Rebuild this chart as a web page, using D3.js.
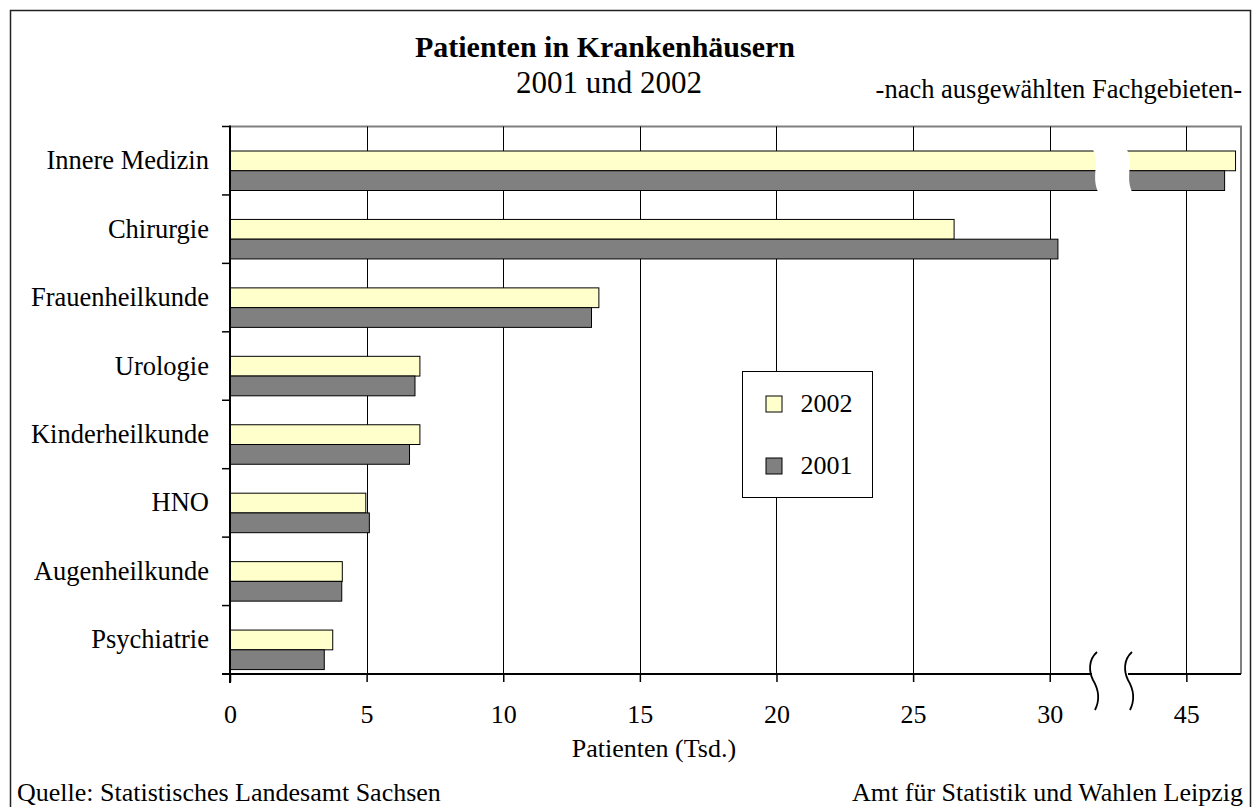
<!DOCTYPE html>
<html>
<head>
<meta charset="utf-8">
<script src="https://cdn.jsdelivr.net/npm/d3@7"></script>
<style>
  body { margin: 0; background: #fff; }
  svg { display: block; font-family: "Liberation Serif", "Times New Roman", serif; }
</style>
</head>
<body>
<div id="chart"></div>
<script>
const categories = ["Innere Medizin", "Chirurgie", "Frauenheilkunde", "Urologie", "Kinderheilkunde", "HNO", "Augenheilkunde", "Psychiatrie"]
const series = ["2002", "2001"]
const values2002 = [46.8, 26.5, 13.5, 6.95, 6.95, 4.97, 4.11, 3.76]
const values2001 = [46.4, 30.3, 13.23, 6.77, 6.57, 5.1, 4.09, 3.45]
const tickValues = [0, 5, 10, 15, 20, 25, 30, 35]
const tickLabels = ["0", "5", "10", "15", "20", "25", "30", "45"]

// values beyond the axis break are drawn this many units further left
const BREAK_OFFSET = 10
const BREAK_AT = 40

const COLORS = { "2002": "#ffffcc", "2001": "#808080" }

const width = 1260
const height = 807
const plot = { left: 230, right: 1241, top: 126.5, bottom: 674 }

const svg = d3.select("#chart")
  .append("svg")
  .attr("width", width)
  .attr("height", height)

const x = d3.scaleLinear().domain([0, 37]).range([plot.left, plot.right])
const y = d3.scaleBand().domain(categories).range([plot.top, plot.bottom])
const sub = d3.scaleBand().domain(series).range([24.5, 64])

const px = v => x(v > BREAK_AT ? v - BREAK_OFFSET : v)
const crisp = v => Math.round(v) + 0.5

// Outer frame
svg.append("rect")
  .attr("x", 10.5).attr("y", 10.5)
  .attr("width", 1240).attr("height", 830)
  .attr("fill", "none")
  .attr("stroke", "#222")
  .attr("stroke-width", 1.5)

// Titles
svg.append("text")
  .attr("x", 605).attr("y", 57)
  .attr("text-anchor", "middle")
  .attr("font-size", 30).attr("font-weight", "bold")
  .text("Patienten in Krankenhäusern")
svg.append("text")
  .attr("x", 609).attr("y", 93)
  .attr("text-anchor", "middle")
  .attr("font-size", 31)
  .text("2001 und 2002")
svg.append("text")
  .attr("x", 1242).attr("y", 98)
  .attr("text-anchor", "end")
  .attr("font-size", 26.5)
  .text("-nach ausgewählten Fachgebieten-")

// Plot border (top and right, gray)
svg.append("path")
  .attr("d", `M${plot.left},${plot.top}H${plot.right}V${plot.bottom}`)
  .attr("fill", "none")
  .attr("stroke", "#808080")
  .attr("stroke-width", 2)

// Vertical gridlines
svg.append("g")
  .selectAll("line")
  .data(tickValues.slice(1))
  .join("line")
  .attr("x1", d => crisp(x(d))).attr("x2", d => crisp(x(d)))
  .attr("y1", plot.top).attr("y2", plot.bottom)
  .attr("stroke", "#000")
  .attr("stroke-width", 1)

// Bars
const rows = categories.map((c, i) => ({ cat: c, "2002": values2002[i], "2001": values2001[i] }))
svg.append("g")
  .selectAll("g")
  .data(rows)
  .join("g")
  .attr("transform", d => `translate(0,${y(d.cat)})`)
  .selectAll("rect")
  .data(d => series.map(s => ({ s, v: d[s] })))
  .join("rect")
  .attr("x", x(0))
  .attr("y", d => sub(d.s))
  .attr("width", d => px(d.v) - x(0))
  .attr("height", sub.bandwidth())
  .attr("fill", d => COLORS[d.s])
  .attr("stroke", "#000")
  .attr("stroke-width", 1)

// Break gap through the long bars
const gy0 = y(categories[0]) + sub.range()[0] - 3
const gy1 = y(categories[0]) + sub.range()[1] + 3
svg.append("path")
  .attr("d", `M1092,${gy0} C1101,${gy0 + 14} 1090,${gy1 - 16} 1099,${gy1} L1133,${gy1} C1124,${gy1 - 16} 1135,${gy0 + 14} 1126,${gy0} Z`)
  .attr("fill", "#fff")

// Legend
const legend = svg.append("g").attr("transform", "translate(742.5,371.5)")
legend.append("rect")
  .attr("width", 130).attr("height", 126)
  .attr("fill", "#fff")
  .attr("stroke", "#000")
  .attr("stroke-width", 1)
series.forEach((s, i) => {
  legend.append("rect")
    .attr("x", 23.5).attr("y", 24.5 + i * 62)
    .attr("width", 16).attr("height", 16)
    .attr("fill", COLORS[s])
    .attr("stroke", "#000")
  legend.append("text")
    .attr("x", 58).attr("y", 40.5 + i * 62)
    .attr("font-size", 26)
    .text(s)
})

// Y axis: category labels and boundary ticks
const yAxis = svg.append("g")
  .attr("transform", `translate(${plot.left},0)`)
  .call(d3.axisLeft(y).tickSize(0).tickPadding(21))
  .attr("font-family", null)
  .attr("font-size", 26.5)
yAxis.select(".domain").remove()
yAxis.selectAll("text").attr("fill", "#000")

const bounds = d3.range(categories.length + 1).map(i => plot.top + i * y.step())
svg.append("g")
  .selectAll("line")
  .data(bounds)
  .join("line")
  .attr("x1", plot.left - 8).attr("x2", plot.left)
  .attr("y1", d => d).attr("y2", d => d)
  .attr("stroke", "#000")
  .attr("stroke-width", 1.5)

svg.append("line")
  .attr("x1", plot.left).attr("x2", plot.left)
  .attr("y1", plot.top - 1).attr("y2", plot.bottom + 9)
  .attr("stroke", "#000")
  .attr("stroke-width", 2)

// X axis
const xAxis = svg.append("g")
  .attr("transform", `translate(0,${plot.bottom})`)
  .call(d3.axisBottom(x)
    .tickValues(tickValues)
    .tickFormat((d, i) => tickLabels[i])
    .tickSize(8)
    .tickPadding(23))
  .attr("font-family", null)
  .attr("font-size", 26)
xAxis.select(".domain").remove()
xAxis.selectAll("line").attr("stroke", "#000").attr("stroke-width", 1.5)
xAxis.selectAll("text").attr("fill", "#000")

svg.append("g")
  .selectAll("line")
  .data([[plot.left - 8, 1092], [1128, plot.right]])
  .join("line")
  .attr("x1", d => d[0]).attr("x2", d => d[1])
  .attr("y1", plot.bottom).attr("y2", plot.bottom)
  .attr("stroke", "#000")
  .attr("stroke-width", 2)

// Axis break marks
svg.append("g")
  .selectAll("path")
  .data([1095, 1130])
  .join("path")
  .attr("d", d => `M${d + 2},652 C${d - 7},660 ${d - 6},672 ${d - 2},680 C${d + 4},690 ${d + 5},700 ${d},710`)
  .attr("fill", "none")
  .attr("stroke", "#000")
  .attr("stroke-width", 1.8)

svg.append("text")
  .attr("x", 654).attr("y", 757)
  .attr("text-anchor", "middle")
  .attr("font-size", 26)
  .text("Patienten (Tsd.)")

// Footer
svg.append("text")
  .attr("x", 17).attr("y", 801)
  .attr("font-size", 26)
  .text("Quelle: Statistisches Landesamt Sachsen")
svg.append("text")
  .attr("x", 1243).attr("y", 801)
  .attr("text-anchor", "end")
  .attr("font-size", 26)
  .text("Amt für Statistik und Wahlen Leipzig")
</script>
</body>
</html>
